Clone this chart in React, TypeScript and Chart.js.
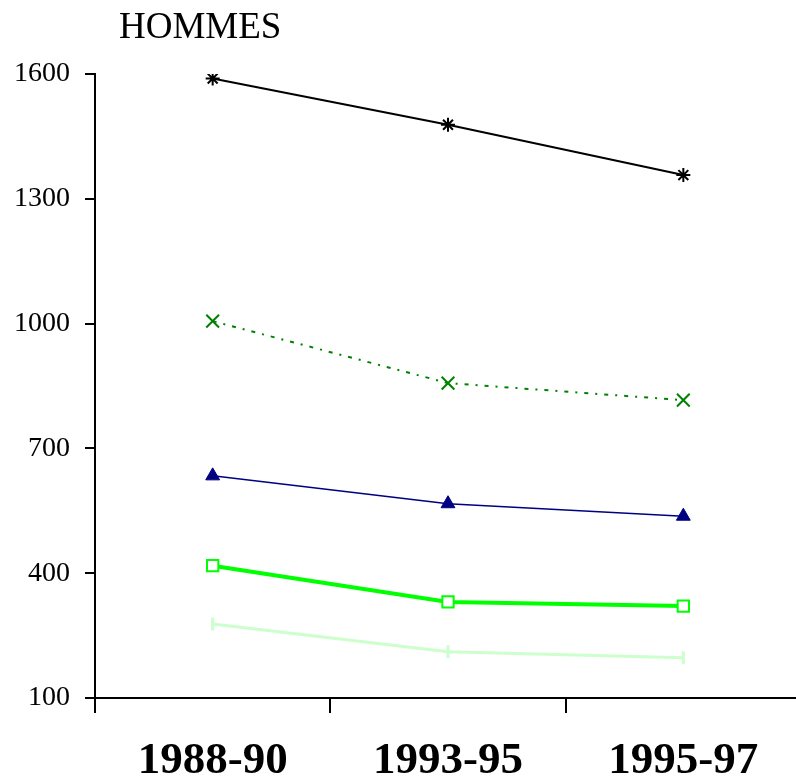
import React, { useEffect, useRef } from "react";
import { Chart, registerables } from "chart.js";

Chart.register(...registerables);

const categories = ["1988-90", "1993-95", "1995-97"];
const yTicks = [100, 400, 700, 1000, 1300, 1600];
const seriesBlack = [1589, 1478, 1357];
const seriesGreenDotted = [1006, 857, 816];
const seriesNavy = [634, 567, 537];
const seriesBrightGreen = [418, 331, 321];
const seriesLightGreen = [278, 211, 197];
const titleText = "HOMMES";

const SERIF = '"Liberation Serif", "Times New Roman", serif';

const titlePlugin = {
  id: "hommesTitle",
  afterDraw(chart: any) {
    const ctx = chart.ctx;
    ctx.save();
    ctx.font = `37px ${SERIF}`;
    ctx.fillStyle = "#000";
    ctx.textAlign = "left";
    ctx.textBaseline = "alphabetic";
    ctx.fillText(titleText, chart.chartArea.left + 24, 38);
    ctx.restore();
  },
};

export default function App() {
  const ref = useRef<HTMLCanvasElement | null>(null);
  useEffect(() => {
    if (!ref.current) return;
    const chart = new Chart(ref.current, {
      type: "line",
      data: {
        labels: categories,
        datasets: [
          {
            data: seriesBlack,
            borderColor: "#000000",
            backgroundColor: "#000000",
            borderWidth: 2,
            pointStyle: "star",
            pointRadius: 7,
            pointBorderWidth: 2,
            tension: 0,
          },
          {
            data: seriesGreenDotted,
            borderColor: "#008000",
            backgroundColor: "#008000",
            borderWidth: 2,
            borderDash: [4, 7, 2, 7],
            pointStyle: "crossRot",
            pointRadius: 9,
            pointBorderWidth: 2,
            tension: 0,
          },
          {
            data: seriesNavy,
            borderColor: "#000080",
            backgroundColor: "#000080",
            borderWidth: 1.5,
            pointStyle: "triangle",
            pointRadius: 8,
            pointBorderWidth: 1,
            tension: 0,
          },
          {
            data: seriesBrightGreen,
            borderColor: "#00ff00",
            backgroundColor: "#ffffff",
            borderWidth: 4,
            pointStyle: "rect",
            pointRadius: 8,
            pointBorderWidth: 2,
            tension: 0,
          },
          {
            data: seriesLightGreen,
            borderColor: "#ccffcc",
            backgroundColor: "#ccffcc",
            borderWidth: 3,
            pointStyle: "line",
            pointRotation: 90,
            pointRadius: 6.5,
            pointBorderWidth: 3,
            tension: 0,
          },
        ],
      },
      options: {
        animation: false,
        responsive: false,
        devicePixelRatio: 1,
        layout: { padding: { top: 74, left: 0, right: 0, bottom: 0 } },
        plugins: {
          legend: { display: false },
          tooltip: { enabled: false },
          title: { display: false },
        },
        scales: {
          x: {
            type: "category",
            offset: true,
            grid: {
              offset: true,
              display: true,
              drawOnChartArea: false,
              drawTicks: true,
              tickLength: 15,
              color: "#000",
              lineWidth: 2,
            },
            border: { display: true, color: "#000", width: 2 },
            ticks: {
              color: "#000",
              font: { family: SERIF, size: 45, weight: "bold" },
              padding: 21,
              maxRotation: 0,
              autoSkip: false,
            },
            afterFit: (scale: any) => {
              scale.height = 82;
            },
          },
          y: {
            min: 100,
            max: 1600,
            afterBuildTicks: (scale: any) => {
              scale.ticks = yTicks.map((v) => ({ value: v }));
            },
            grid: {
              display: true,
              drawOnChartArea: false,
              drawTicks: true,
              tickLength: 10,
              color: "#000",
              lineWidth: 2,
            },
            border: { display: true, color: "#000", width: 2 },
            ticks: {
              color: "#000",
              font: { family: SERIF, size: 28 },
              padding: 15,
              callback: (v: any) => String(v),
            },
            afterFit: (scale: any) => {
              scale.width = 95;
            },
          },
        },
      },
      plugins: [titlePlugin],
    });
    return () => chart.destroy();
  }, []);
  return (
    <div
      style={{
        position: "fixed",
        left: 0,
        top: 0,
        width: 796,
        height: 780,
        overflow: "hidden",
        background: "#fff",
      }}
    >
      <canvas ref={ref} width={812} height={780} style={{ width: 812, height: 780, display: "block" }} />
    </div>
  );
}
